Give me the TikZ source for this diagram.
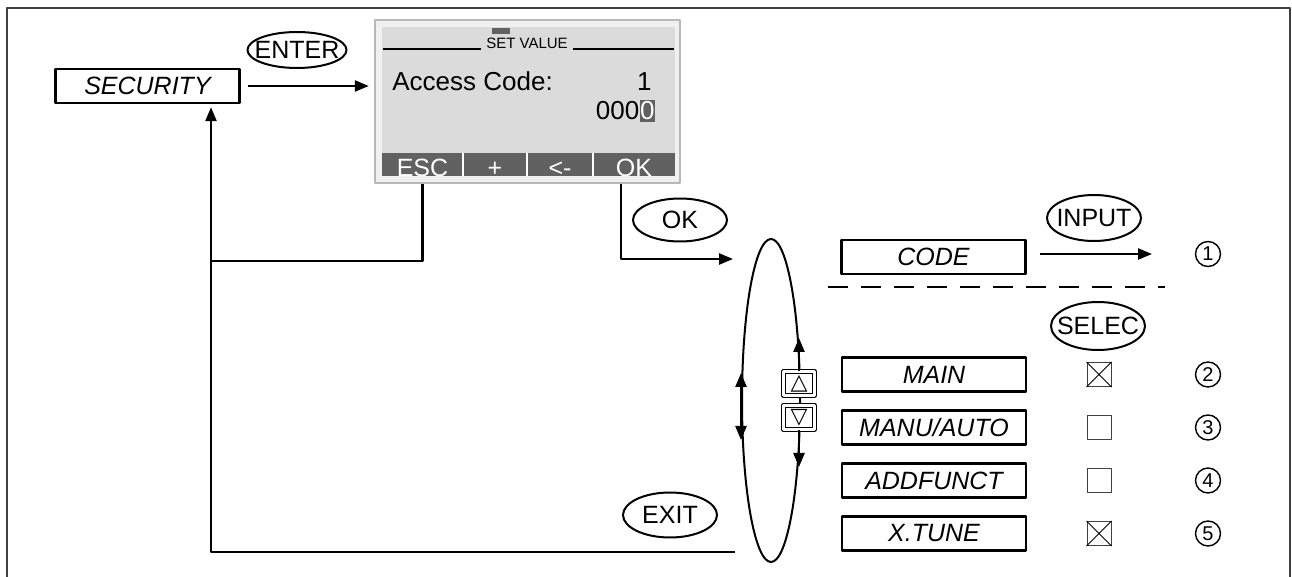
\documentclass[tikz,border=0pt]{standalone}
\usepackage{fontspec}
\setmainfont{Liberation Sans}
\newfontfamily\symfont{DejaVu Sans}
\usetikzlibrary{shapes.geometric,arrows.meta,positioning}
\begin{document}
\begin{tikzpicture}[x=0.5pt,y=-0.5pt,line join=round,>={Triangle[length=7pt,width=5.5pt]},font=\fontsize{12.5}{15}\selectfont]
	\tikzset{
		menu/.style={draw,line width=1.2pt,minimum width=92pt,minimum height=17pt,inner sep=0pt,font=\fontsize{12.5}{15}\selectfont\itshape},
		taste/.style={draw,ellipse,line width=1pt,inner sep=0pt,minimum width=47pt,minimum height=21.5pt},
		kasten/.style={draw=black!75,line width=0.5pt,minimum size=12pt,inner sep=0pt},
		nummer/.style={draw,circle,line width=0.7pt,minimum size=12.5pt,inner sep=0pt,font=\fontsize{10}{12}\selectfont},
		knopf/.style={draw,double,double distance=1.2pt,line width=0.7pt,fill=white,minimum width=15.5pt,minimum height=12pt,inner sep=0pt,font=\symfont\fontsize{11}{12}\selectfont},
		leiste/.style={text=white,anchor=base},
		pfeil/.style={->,line width=1.2pt},
		linie/.style={line width=1.2pt}
	}
	\useasboundingbox (0,0) rectangle (1292,577);
	%%% Rahmen
	\draw[black!75,line width=1pt] (7,577)--(7,8)--(1290,8)--(1290,577);
	%%% Anzeige
	\node[draw=black!28,line width=1.2pt,fill=black!6,minimum width=152.5pt,minimum height=81.5pt,inner sep=0pt] (disp) at (527.5,101.5) {};
	\fill[black!14] (382,27) rectangle (675,176);
	\fill[black!62] (492,28) rectangle (510,34);
	\node[anchor=base,inner xsep=2.5pt,font=\fontsize{7.5}{9}\selectfont] (titel) at (527,49) {SET VALUE};
	\draw[line width=0.6pt] (383,49)--(titel.base west) (titel.base east)--(674,49);
	\node[anchor=base west,inner sep=0pt,font=\fontsize{13}{15}\selectfont] (zugang) at (392,91) {Access Code:};
	\node[anchor=base east,inner sep=0pt,font=\fontsize{13}{15}\selectfont] (nr) at (652,91) {1};
	\node[anchor=base east,inner xsep=0pt,inner ysep=1pt,fill=black!62,text=white,font=\fontsize{13}{15}\selectfont] (cursor) at (655,120) {0};
	\node[anchor=base east,inner sep=0pt,font=\fontsize{13}{15}\selectfont] (wert) at (cursor.base west) {000};
	\fill[black!62] (382,153) rectangle (675,176);
	\draw[white,line width=1pt] (463,153)--(463,176) (527,153)--(527,176) (593,153)--(593,176);
	\begin{scope}
		\clip (382,153) rectangle (675,176);
		\node[leiste] (esc) at (422.5,176.5) {ESC};
		\node[leiste] (plus) at (495,176.5) {+};
		\node[leiste] (zurueck) at (560,176.5) {<-};
		\node[leiste] (okkey) at (634,176.5) {OK};
	\end{scope}
	%%% Menue
	\node[menu] (sec) at (147.5,86) {SECURITY};
	\node[menu] (code) at (933.5,257) {CODE};
	\node[nummer] (n1) at (1208,254) {1};
	\foreach \name/\txt/\y/\num/\kreuz in {main/MAIN/374.5/2/1,manu/{MANU/AUTO}/427.5/3/0,add/ADDFUNCT/480.5/4/0,tune/X.TUNE/533.5/5/1}{
		\node[menu] (\name) at (934,\y) {\txt};
		\node[kasten] (k\name) at (1099,\y) {};
		\ifnum\kreuz=1 \draw[line width=0.5pt] (k\name.north west)--(k\name.south east) (k\name.north east)--(k\name.south west);\fi
		\node[nummer] (n\name) at (1208,\y) {\num};
	}
	\draw[line width=1.2pt,dash pattern=on 10pt off 6.5pt] (828,287)--(1165,287);
	%%% Tasten
	\node[taste,minimum width=49.5pt,minimum height=18pt] (enter) at (297,50) {\makebox[0pt]{ENTER}};
	\node[taste] (ok) at (680,220) {\makebox[0pt]{OK}};
	\node[taste,minimum height=22.5pt] (exit) at (670,515) {\makebox[0pt]{EXIT}};
	\node[taste,minimum height=23pt] (input) at (1094,218) {\makebox[0pt]{INPUT}};
	\node[taste,minimum height=24pt] (selec) at (1098,326) {\makebox[0pt]{SELEC}};
	%%% Auswahl-Schleife
	\node[draw,ellipse,line width=1pt,minimum width=29pt,minimum height=161.5pt,inner sep=0pt] (loop) at (771,400.5) {};
	\node[knopf] (up) at (799,383.5) {△};
	\node[knopf] (down) at (799,417.5) {▽};
	\draw[pfeil] (up.north)--(up.north|-0,338);
	\draw[pfeil] (down.south)--(down.south|-0,467);
	\draw[pfeil] (loop.west)--++(0,-27.5);
	\draw[pfeil] (loop.west)--++(0,39.5);
	%%% Verbindungen
	\coordinate (eingang) at (211,261);
	\coordinate (okziel) at (733,259);
	\coordinate (schleife) at (735,552);
	\coordinate (eins) at (1152,254);
	\draw[pfeil,shorten <=3.5pt,shorten >=2.5pt] (sec.east)--(sec.east-|disp.west);
	\draw[linie] (esc|-disp.south)|-(eingang);
	\draw[pfeil] ([xshift=-6.5pt]okkey.center|-disp.south)|-(okziel);
	\draw[pfeil,shorten >=1.5pt] (schleife)-|([xshift=31.75pt]sec.south);
	\draw[pfeil,shorten <=6.5pt] (code.east|-eins)--(eins);
\end{tikzpicture}
\end{document}
